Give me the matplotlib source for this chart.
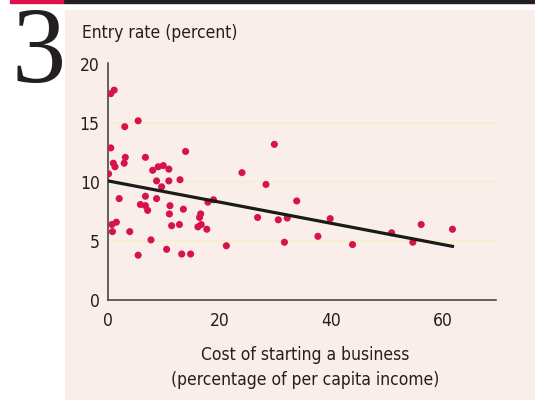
import matplotlib
matplotlib.use("Agg")
import matplotlib.pyplot as plt
from matplotlib.patches import Rectangle

# cost of starting a business (% of per capita income) and entry rate (%)
cost = [0.5, 1.1, 0.5, 0.1, 0.95, 1.25, 3.0, 5.4, 3.1, 2.9, 6.7, 13.9, 8.0, 9.0,
        9.9, 10.9, 8.7, 10.9, 12.9, 9.6, 2.0, 6.7, 8.7, 5.8, 6.7, 7.1, 11.1, 11.0,
        13.5, 17.9, 18.9, 16.6, 16.4, 0.7, 1.5, 0.8, 3.9, 11.4, 12.8, 16.1, 16.7,
        17.7, 7.7, 10.5, 5.4, 13.2, 14.8, 21.2, 24.0, 26.8, 29.8, 28.3, 33.8, 30.5,
        32.1, 39.8, 31.6, 37.6, 43.8, 50.8, 54.6, 56.1, 61.7]
entry = [17.5, 17.8, 12.9, 10.7, 11.6, 11.3, 14.7, 15.2, 12.1, 11.6, 12.1, 12.6,
         11.0, 11.3, 11.4, 11.1, 10.1, 10.1, 10.2, 9.6, 8.6, 8.8, 8.6, 8.1, 8.0,
         7.6, 8.0, 7.3, 7.7, 8.3, 8.5, 7.3, 7.0, 6.4, 6.6, 5.8, 5.8, 6.3, 6.4, 6.2,
         6.4, 6.0, 5.1, 4.3, 3.8, 3.9, 3.9, 4.6, 10.8, 7.0, 13.2, 9.8, 8.4, 6.8,
         6.95, 6.9, 4.9, 5.4, 4.7, 5.7, 4.9, 6.4, 6.0]

# fitted trend line end points
trend_x = [0, 61.7]
trend_y = [10.1, 4.55]

x_ticks = [0, 20, 40, 60]
y_ticks = [0, 5, 10, 15, 20]

FONT = "DejaVu Sans"
TXT = "#231f20"
PINK = "#faeeea"
RED = "#d6134a"
tfont = dict(family=FONT, stretch="condensed", fontsize=12.5, color=TXT)

fig = plt.figure(figsize=(5.35, 4.0), dpi=100)
fig.patch.set_facecolor("white")

# pink panel and top bar
fig.patches.append(Rectangle((65 / 535, 0), 470 / 535, 390 / 400,
                             transform=fig.transFigure, color=PINK, zorder=-5))
fig.patches.append(Rectangle((63 / 535, 397 / 400), 472 / 535, 3 / 400,
                             transform=fig.transFigure, color=TXT, zorder=-4))
fig.patches.append(Rectangle((10 / 535, 397 / 400), 53 / 535, 3 / 400,
                             transform=fig.transFigure, color="#e0114a", zorder=-4))

ax = fig.add_axes([108 / 535, 0.25, 388 / 535, 237 / 400])
ax.set_facecolor("none")

for yv in [5, 10, 15]:
    ax.axhline(yv, color="#f6eecf", lw=1.2, zorder=1)

ax.scatter(cost, entry, s=26, color=RED, edgecolors="none", zorder=3)
ax.plot(trend_x, trend_y, color="#1a1a1a", lw=2.3, zorder=4)

ax.set_xlim(0, 69.5)
ax.set_ylim(0, 20.1)
ax.set_xticks(x_ticks)
ax.set_yticks(y_ticks)
ax.tick_params(length=0, labelsize=12.5, colors=TXT)
ax.tick_params(axis="x", pad=9)
ax.tick_params(axis="y", pad=6)
for lab in ax.get_xticklabels() + ax.get_yticklabels():
    lab.set_family(FONT)
    lab.set_stretch("condensed")

for s in ["top", "right"]:
    ax.spines[s].set_visible(False)
for s in ["left", "bottom"]:
    ax.spines[s].set_color("#3a3a3a")
    ax.spines[s].set_linewidth(1.1)

fig.text(82 / 535, 1 - 33 / 400, "Entry rate (percent)", va="center",
         ha="left", **tfont)
fig.text(305 / 535, 1 - 355 / 400, "Cost of starting a business",
         va="center", ha="center", **tfont)
fig.text(305 / 535, 1 - 380 / 400, "(percentage of per capita income)",
         va="center", ha="center", **tfont)

# big figure number
fig.text(39 / 535, 1 - 82 / 400, "3", family="Liberation Serif", fontsize=78,
         color=TXT, va="baseline", ha="center")

fig.savefig("out.png", dpi=100, facecolor=fig.get_facecolor())
